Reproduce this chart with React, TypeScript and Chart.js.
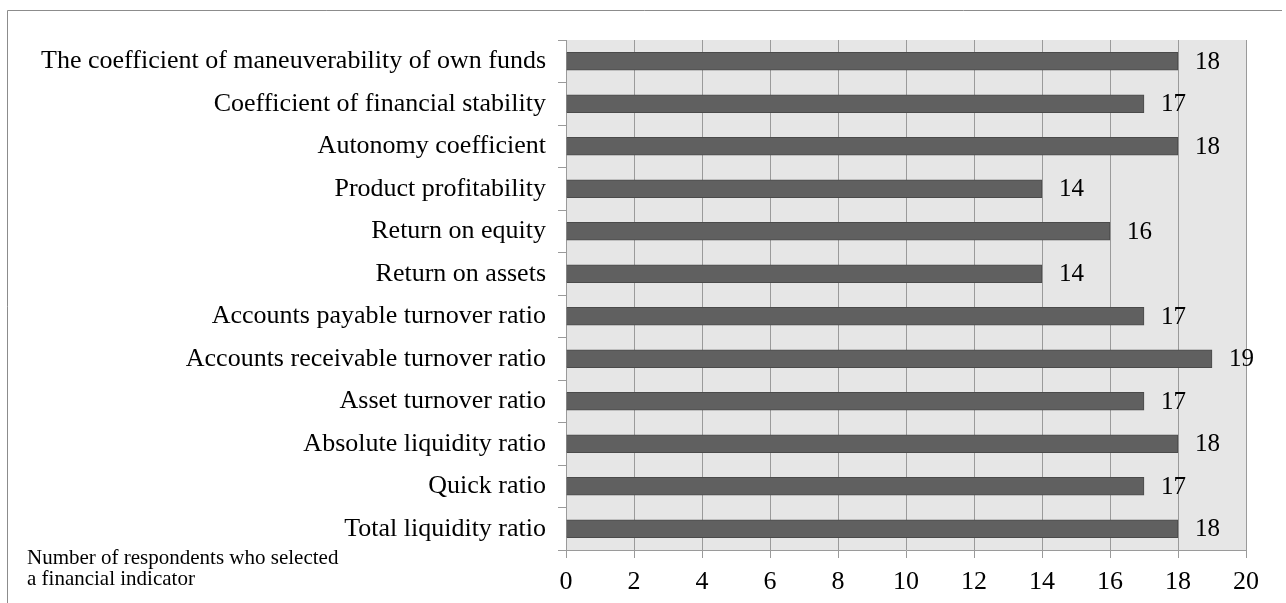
import React, { useEffect, useRef } from "react";
import { Chart, registerables } from "chart.js";

Chart.register(...registerables);

const categories = [
  "The coefficient of maneuverability of own funds",
  "Coefficient of financial stability",
  "Autonomy coefficient",
  "Product profitability",
  "Return on equity",
  "Return on assets",
  "Accounts payable turnover ratio",
  "Accounts receivable turnover ratio",
  "Asset turnover ratio",
  "Absolute liquidity ratio",
  "Quick ratio",
  "Total liquidity ratio",
];
const values = [18, 17, 18, 14, 16, 14, 17, 19, 17, 18, 17, 18];
const axisTitleLines = ["Number of respondents who selected", "a financial indicator"];
const xMin = 0;
const xMax = 20;
const xStep = 2;

const FONT = "'Liberation Serif', 'Times New Roman', serif";

export default function App() {
  const ref = useRef<HTMLCanvasElement | null>(null);

  useEffect(() => {
    if (!ref.current) return;
    const bgPlugin = {
      id: "bgPlugin",
      beforeDraw(chart: any) {
        const { ctx, chartArea } = chart;
        ctx.save();
        ctx.fillStyle = "#ffffff";
        ctx.fillRect(0, 0, chart.width, chart.height);
        ctx.fillStyle = "#e6e6e6";
        ctx.fillRect(chartArea.left, chartArea.top, chartArea.right - chartArea.left, chartArea.bottom - chartArea.top);
        // outer frame (top and left)
        ctx.strokeStyle = "#8c8c8c";
        ctx.lineWidth = 1;
        ctx.beginPath();
        ctx.moveTo(7.5, chart.height);
        ctx.lineTo(7.5, 10.5);
        ctx.lineTo(1282, 10.5);
        ctx.stroke();
        ctx.restore();
      },
      afterDraw(chart: any) {
        const { ctx } = chart;
        ctx.save();
        ctx.fillStyle = "#000";
        ctx.font = `21px ${FONT}`;
        ctx.textAlign = "left";
        ctx.textBaseline = "alphabetic";
        axisTitleLines.forEach((l, i) => ctx.fillText(l, 27, 564 + i * 21));
        ctx.restore();
      },
      afterDatasetsDraw(chart: any) {
        const { ctx } = chart;
        const meta = chart.getDatasetMeta(0);
        ctx.save();
        ctx.fillStyle = "#000";
        ctx.font = `25px ${FONT}`;
        ctx.textAlign = "left";
        ctx.textBaseline = "middle";
        meta.data.forEach((el: any, i: number) => {
          ctx.fillText(String(values[i]), el.x + 17, el.y + 1);
        });
        ctx.restore();
      },
    };

    const chart = new Chart(ref.current, {
      type: "bar",
      data: {
        labels: categories,
        datasets: [
          {
            data: values,
            backgroundColor: "#606060",
            borderColor: "#4a4a4a",
            borderWidth: 1,
            barThickness: 18,
          },
        ],
      },
      options: {
        indexAxis: "y",
        animation: false,
        responsive: false,
        events: [],
        layout: { padding: { left: 0, top: 40, right: 40, bottom: 0 } },
        plugins: {
          legend: { display: false },
          tooltip: { enabled: false },
        },
        scales: {
          x: {
            min: xMin,
            max: xMax,
            ticks: { stepSize: xStep, color: "#000", font: { family: FONT, size: 26 }, padding: 9 },
            grid: { color: "#9a9a9a", tickLength: 8, drawTicks: true },
            border: { color: "#9a9a9a" },
            afterFit(scale: any) {
              scale.height = 53;
            },
          },
          y: {
            ticks: { color: "#000", font: { family: FONT, size: 26 }, padding: 12, autoSkip: false },
            grid: { drawOnChartArea: false, drawTicks: true, tickLength: 8, offset: true, color: "#9a9a9a" },
            border: { color: "#9a9a9a" },
            afterFit(scale: any) {
              scale.width = 566;
            },
          },
        },
      },
      plugins: [bgPlugin],
    });
    return () => chart.destroy();
  }, []);

  return (
    <div style={{ position: "fixed", left: 0, top: 0, width: 1286, height: 603, background: "#fff" }}>
      <canvas ref={ref} width={1286} height={603} style={{ display: "block" }} />
    </div>
  );
}
